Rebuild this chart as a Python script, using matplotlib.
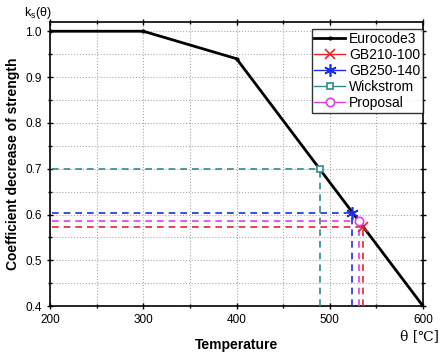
import matplotlib
matplotlib.use("Agg")
import matplotlib.pyplot as plt
from matplotlib.ticker import MultipleLocator
from matplotlib.lines import Line2D

plt.rcParams['font.family'] = ['Liberation Sans', 'DejaVu Sans']

ec_temp = [200, 300, 400, 600]
ec_k = [1.0, 1.0, 0.94, 0.40]

point_names = ["GB210-100", "GB250-140", "Wickstrom", "Proposal"]
point_temp = [536, 524, 490, 531]
point_k = [0.572, 0.604, 0.700, 0.586]

styles = {
    "GB210-100": dict(color="#e8232b", marker="x", ms=7, mfc="none"),
    "GB250-140": dict(color="#1f2ee0", marker=(6, 2, 0), ms=9, mfc="none"),
    "Wickstrom": dict(color="#2e8b8b", marker="s", ms=5, mfc="white"),
    "Proposal": dict(color="#e040e0", marker="o", ms=6, mfc="white"),
}

fig = plt.figure(figsize=(4.43, 3.56), dpi=100)
ax = fig.add_axes([0.113, 0.140, 0.842, 0.798])
ax.set_xlim(200, 600)
ax.set_ylim(0.4, 1.02)

ax.plot(ec_temp, ec_k, color="black", lw=2, marker="o", ms=2, label="Eurocode3", zorder=4)

draw_order = ["Wickstrom", "GB250-140", "GB210-100", "Proposal"]
for z, name in enumerate(draw_order):
    i = point_names.index(name)
    x, y = point_temp[i], point_k[i]
    st = styles[name]
    ax.plot([202, x], [y, y], color=st["color"], lw=1.2, ls=(0, (4, 3)), zorder=3)
    ax.plot([x, x], [0.4, y], color=st["color"], lw=1.2, ls=(0, (4, 3)), zorder=3)
    ax.plot([x], [y], color=st["color"], marker=st["marker"], ms=st["ms"],
            mfc=st["mfc"], mew=1.2, ls="none", zorder=5 + z)

leg_handles = [Line2D([], [], color="black", lw=2, marker="o", ms=2)]
for name in point_names:
    st = styles[name]
    leg_handles.append(Line2D([], [], color=st["color"], lw=1, marker=st["marker"],
                              ms=st["ms"], mfc=st["mfc"], mew=1.2))
leg = ax.legend(leg_handles, ["Eurocode3"] + point_names, loc="upper right",
                bbox_to_anchor=(1.0, 0.975), fontsize=10, frameon=True, fancybox=False,
                edgecolor="black", borderpad=0.2, labelspacing=0.15, handlelength=2.2,
                handletextpad=0.3, borderaxespad=0.0)
leg.get_frame().set_linewidth(1.0)
leg.set_zorder(10)

ax.xaxis.set_major_locator(MultipleLocator(100))
ax.xaxis.set_minor_locator(MultipleLocator(50))
ax.yaxis.set_major_locator(MultipleLocator(0.1))
ax.yaxis.set_minor_locator(MultipleLocator(0.05))
ax.grid(True, which="both", color="#aaaaaa", ls=":", lw=0.8)
ax.set_axisbelow(True)
ax.tick_params(which="major", direction="inout", length=5, width=1, labelsize=8.5,
               top=True, right=True)
ax.tick_params(which="minor", direction="inout", length=3, width=1, top=True, right=True)
for s in ax.spines.values():
    s.set_linewidth(1.2)

ax.set_xlabel("Temperature", fontsize=10, fontweight="bold", labelpad=8)
ax.set_ylabel("Coefficient decrease of strength", fontsize=10, fontweight="bold", labelpad=4)
fig.text(0.055, 0.955, r"k$_\mathregular{s}$($\mathregular{\theta}$)", fontsize=9)
fig.text(0.99, 0.045, "θ [℃]", fontsize=10, ha="right", family=["DejaVu Serif"])

fig.savefig("out.png", dpi=100)
